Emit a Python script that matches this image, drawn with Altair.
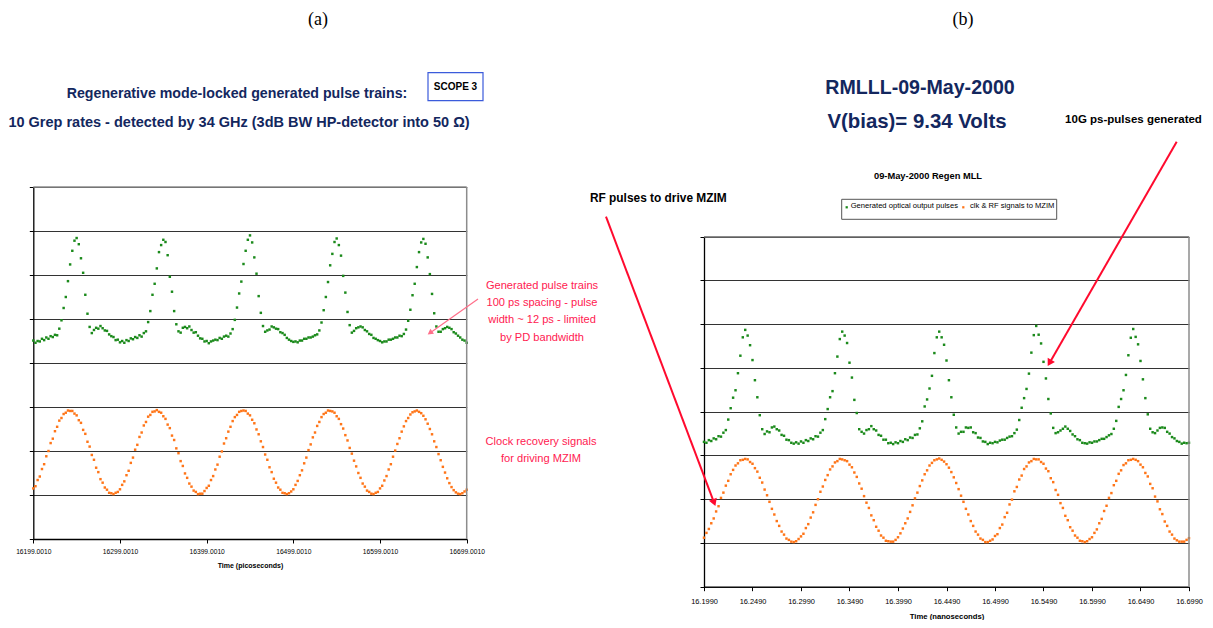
import altair as alt
import pandas as pd

# ---------------- data ----------------
T0_PS = 16199.001      # left panel time origin (picoseconds)
T0_NS = 16.199         # right panel time origin (nanoseconds)
STEP_PS = 2.5
STEP_NS = 0.0025

left_pulse = (
    [4.51, 4.46, 4.50, 4.49, 4.55, 4.52, 4.58, 4.55, 4.61, 4.59, 4.64, 4.63, 4.78, 4.97, 5.25, 5.50, 5.86, 6.24, 6.55, 6.78,
     6.84, 6.70, 6.38, 6.05, 5.55, 5.12, 4.82, 4.68, 4.75, 4.80, 4.78, 4.84, 4.79, 4.74, 4.73, 4.65, 4.61, 4.59, 4.52, 4.53]
    + [4.47, 4.50, 4.46, 4.52, 4.50, 4.56, 4.54, 4.59, 4.57, 4.63, 4.60, 4.68, 4.72, 4.93, 5.18, 5.55, 5.80, 6.15, 6.52, 6.68,
       6.80, 6.75, 6.45, 5.96, 5.62, 5.18, 4.88, 4.72, 4.69, 4.80, 4.82, 4.79, 4.83, 4.75, 4.69, 4.70, 4.62, 4.56, 4.55, 4.49]
    + [4.50, 4.45, 4.49, 4.51, 4.53, 4.52, 4.57, 4.55, 4.60, 4.62, 4.60, 4.67, 4.77, 4.98, 5.26, 5.58, 5.85, 6.25, 6.55, 6.80,
       6.90, 6.74, 6.40, 6.03, 5.52, 5.14, 4.84, 4.71, 4.74, 4.76, 4.83, 4.81, 4.78, 4.77, 4.70, 4.68, 4.64, 4.57, 4.53, 4.50]
    + [4.48, 4.49, 4.47, 4.51, 4.51, 4.55, 4.55, 4.58, 4.58, 4.60, 4.63, 4.65, 4.74, 4.92, 5.20, 5.50, 5.84, 6.22, 6.48, 6.75,
       6.83, 6.68, 6.44, 5.98, 5.60, 5.16, 4.86, 4.69, 4.73, 4.79, 4.81, 4.83, 4.81, 4.75, 4.72, 4.66, 4.64, 4.57, 4.55, 4.52]
    + [4.50, 4.47, 4.49, 4.49, 4.53, 4.53, 4.55, 4.58, 4.58, 4.62, 4.61, 4.66, 4.76, 4.96, 5.21, 5.54, 5.80, 6.18, 6.52, 6.74,
       6.82, 6.71, 6.40, 6.02, 5.57, 5.13, 4.83, 4.71, 4.71, 4.77, 4.79, 4.82, 4.80, 4.77, 4.70, 4.67, 4.62, 4.58, 4.53, 4.51]
    + [4.46]
)

left_clock = (
    [1.15, 1.20, 1.34, 1.42, 1.59, 1.70, 1.88, 2.00, 2.18, 2.28, 2.45, 2.55, 2.69, 2.75, 2.84, 2.87, 2.92, 2.91, 2.91, 2.85,
     2.81, 2.70, 2.64, 2.48, 2.39, 2.21, 2.10, 1.91, 1.80, 1.62, 1.52, 1.36, 1.28, 1.17, 1.12, 1.05, 1.04, 1.02, 1.05, 1.07]
    + [1.13, 1.23, 1.31, 1.45, 1.55, 1.73, 1.85, 2.03, 2.14, 2.32, 2.42, 2.58, 2.66, 2.78, 2.82, 2.89, 2.90, 2.93, 2.89, 2.87,
       2.79, 2.73, 2.60, 2.52, 2.35, 2.25, 2.06, 1.95, 1.77, 1.66, 1.49, 1.39, 1.26, 1.19, 1.10, 1.07, 1.02, 1.03, 1.03, 1.09]
    + [1.16, 1.21, 1.34, 1.43, 1.58, 1.69, 1.87, 1.99, 2.17, 2.29, 2.44, 2.55, 2.68, 2.77, 2.82, 2.89, 2.91, 2.92, 2.91, 2.85,
       2.81, 2.71, 2.63, 2.49, 2.38, 2.22, 2.09, 1.92, 1.80, 1.63, 1.52, 1.37, 1.28, 1.17, 1.12, 1.05, 1.04, 1.02, 1.04, 1.08]
    + [1.13, 1.23, 1.32, 1.45, 1.56, 1.72, 1.85, 2.02, 2.15, 2.31, 2.42, 2.57, 2.66, 2.77, 2.84, 2.87, 2.92, 2.91, 2.90, 2.87,
       2.79, 2.73, 2.61, 2.51, 2.36, 2.24, 2.07, 1.94, 1.78, 1.65, 1.50, 1.39, 1.26, 1.19, 1.10, 1.07, 1.03, 1.02, 1.05, 1.07]
    + [1.15, 1.21, 1.33, 1.43, 1.58, 1.70, 1.87, 2.01, 2.16, 2.29, 2.44, 2.56, 2.68, 2.75, 2.83, 2.88, 2.90, 2.92, 2.89, 2.86,
       2.80, 2.72, 2.62, 2.50, 2.38, 2.22, 2.09, 1.93, 1.79, 1.64, 1.51, 1.38, 1.27, 1.18, 1.11, 1.06, 1.03, 1.02, 1.04, 1.08]
    + [1.12]
)

right_pulse = (
    [3.31, 3.29, 3.35, 3.33, 3.39, 3.37, 3.44, 3.43, 3.52, 3.58, 3.82, 4.08, 4.32, 4.49, 4.88, 5.28, 5.70, 5.87, 5.74, 5.52,
     5.18, 4.72, 4.33, 3.92, 3.60, 3.49, 3.55, 3.53, 3.64, 3.66, 3.60, 3.57, 3.47, 3.45, 3.36, 3.35, 3.29]
    + [3.27, 3.30, 3.27, 3.32, 3.29, 3.35, 3.33, 3.39, 3.37, 3.44, 3.43, 3.52, 3.58, 3.83, 4.06, 4.33, 4.47, 4.88, 5.26, 5.66,
       5.83, 5.74, 5.57, 5.12, 4.78, 4.27, 3.97, 3.60, 3.54, 3.50, 3.58, 3.60, 3.67, 3.60, 3.57, 3.47, 3.45, 3.36, 3.36, 3.28]
    + [3.29, 3.26, 3.30, 3.28, 3.33, 3.31, 3.37, 3.35, 3.41, 3.40, 3.47, 3.48, 3.62, 3.78, 4.12, 4.28, 4.53, 4.82, 5.34, 5.70,
       5.83, 5.70, 5.53, 5.17, 4.72, 4.33, 3.93, 3.64, 3.50, 3.54, 3.54, 3.64, 3.63, 3.64, 3.53, 3.51, 3.41, 3.40, 3.32, 3.31]
    + [3.26, 3.29, 3.28, 3.31, 3.30, 3.34, 3.36, 3.36, 3.40, 3.43, 3.44, 3.51, 3.59, 3.81, 4.09, 4.31, 4.52, 4.87, 5.35, 5.75,
       5.96, 5.76, 5.56, 5.14, 4.76, 4.29, 3.96, 3.63, 3.51, 3.53, 3.57, 3.61, 3.66, 3.61, 3.56, 3.48, 3.44, 3.37, 3.35, 3.29]
    + [3.28, 3.27, 3.30, 3.29, 3.32, 3.32, 3.35, 3.38, 3.38, 3.42, 3.46, 3.49, 3.61, 3.79, 4.11, 4.29, 4.49, 4.84, 5.29, 5.69,
       5.89, 5.71, 5.54, 5.16, 4.74, 4.31, 3.94, 3.61, 3.53, 3.51, 3.57, 3.63, 3.64, 3.63, 3.54, 3.50, 3.42, 3.39, 3.33, 3.31]
    + [3.27, 3.29, 3.28, 3.29]
)

right_clock = (
    [1.12, 1.23, 1.32, 1.45, 1.56, 1.72, 1.84, 2.03, 2.15, 2.31, 2.42, 2.57, 2.67, 2.77, 2.82, 2.89, 2.90, 2.92, 2.91, 2.85,
     2.81, 2.71, 2.63, 2.49, 2.38, 2.22, 2.09, 1.94, 1.78, 1.65, 1.50, 1.39, 1.26, 1.19, 1.10, 1.07, 1.03, 1.02, 1.04, 1.09]
    + [1.15, 1.21, 1.34, 1.43, 1.58, 1.70, 1.87, 2.00, 2.17, 2.29, 2.44, 2.55, 2.68, 2.75, 2.84, 2.87, 2.92, 2.91, 2.89, 2.87,
       2.79, 2.73, 2.61, 2.51, 2.36, 2.24, 2.07, 1.92, 1.80, 1.63, 1.52, 1.37, 1.28, 1.17, 1.12, 1.05, 1.04, 1.03, 1.03, 1.07]
    + [1.13, 1.22, 1.33, 1.45, 1.56, 1.71, 1.86, 2.02, 2.15, 2.30, 2.43, 2.57, 2.66, 2.77, 2.83, 2.89, 2.91, 2.93, 2.90, 2.86,
       2.80, 2.72, 2.62, 2.50, 2.37, 2.23, 2.08, 1.94, 1.78, 1.65, 1.50, 1.39, 1.26, 1.19, 1.10, 1.07, 1.02, 1.02, 1.05, 1.08]
    + [1.16, 1.20, 1.34, 1.42, 1.59, 1.69, 1.88, 1.99, 2.18, 2.28, 2.45, 2.54, 2.69, 2.75, 2.84, 2.87, 2.92, 2.91, 2.91, 2.85,
       2.81, 2.70, 2.64, 2.48, 2.39, 2.21, 2.10, 1.91, 1.80, 1.62, 1.52, 1.36, 1.28, 1.17, 1.12, 1.05, 1.04, 1.02, 1.04, 1.09]
    + [1.13, 1.23, 1.31, 1.45, 1.55, 1.73, 1.85, 2.03, 2.14, 2.32, 2.42, 2.58, 2.66, 2.78, 2.82, 2.89, 2.90, 2.92, 2.90, 2.87,
       2.79, 2.73, 2.60, 2.52, 2.35, 2.25, 2.06, 1.95, 1.77, 1.66, 1.49, 1.39, 1.26, 1.19, 1.10, 1.06, 1.03, 1.03, 1.03, 1.07]
    + [1.11]
)

left_ticks = [16199.001, 16299.001, 16399.001, 16499.001, 16599.001, 16699.001]
right_ticks = [16.199, 16.249, 16.299, 16.349, 16.399, 16.449, 16.499, 16.549, 16.599, 16.649, 16.699]
grid_levels = [0, 1, 2, 3, 4, 5, 6, 7, 8]

left_df = pd.DataFrame({
    "t": [T0_PS + STEP_PS * i for i in range(len(left_pulse))],
    "pulse": left_pulse,
    "clock": left_clock,
})
right_df = pd.DataFrame({
    "t": [T0_NS + STEP_NS * i for i in range(len(right_pulse))],
    "pulse": right_pulse,
    "clock": right_clock,
})
one = pd.DataFrame({"k": [0]})

# ---------------- layout / style ----------------
W, H = 1197, 612
LX = [25.3, 458.7]
LY = [531.0, 179.0]
RX = [696.0, 1181.0]
RY = [578.7, 228.7]

SANS = "Liberation Sans, Arial, sans-serif"
SERIF = "Liberation Serif, Times New Roman, serif"
NAVY = "#13275e"
GREEN = "#1b8a1b"
ORANGE = "#ff7518"
RED_TXT = "#ff2050"
RED = "#ff0a2e"
PINK = "#ff6f8a"

lxs = alt.Scale(domain=[left_ticks[0], left_ticks[-1]], range=LX, nice=False, zero=False)
lys = alt.Scale(domain=[0, 8], range=LY, nice=False, zero=False)
rxs = alt.Scale(domain=[right_ticks[0], right_ticks[-1]], range=RX, nice=False, zero=False)
rys = alt.Scale(domain=[0, 8], range=RY, nice=False, zero=False)

ax_lx = alt.Axis(orient="bottom", offset=LY[0] - H, values=left_ticks, format=".4f",
                 title="Time (picoseconds)", labelFontSize=6.7, titleFontSize=7,
                 titleFontWeight="bold", tickSize=4, labelPadding=5, titlePadding=7,
                 grid=False, labelFlush=False, labelOverlap=False, labelBound=False)
ax_ly = alt.Axis(orient="left", offset=-LX[0], values=grid_levels, labels=False, title="",
                 grid=True, tickSize=4)
ax_rx = alt.Axis(orient="bottom", offset=RY[0] - H, values=right_ticks, format=".4f",
                 title="Time (nanoseconds)", labelFontSize=7.4, titleFontSize=7.7,
                 titleFontWeight="bold", tickSize=4, labelPadding=7, titlePadding=7,
                 grid=False, labelFlush=False, labelOverlap=False, labelBound=False)
ax_ry = alt.Axis(orient="left", offset=-RX[0], values=grid_levels, labels=False, title="",
                 grid=True, tickSize=4)

DOT = 6

left_pulse_layer = alt.Chart(left_df).mark_square(size=DOT, color=GREEN, opacity=1).encode(
    x=alt.X("t:Q", scale=lxs, axis=ax_lx),
    y=alt.Y("pulse:Q", scale=lys, axis=ax_ly),
)
left_clock_layer = alt.Chart(left_df).mark_square(size=DOT, color=ORANGE, opacity=1).encode(
    x=alt.X("t:Q", scale=lxs, axis=None),
    y=alt.Y("clock:Q", scale=lys, axis=None),
)
right_pulse_layer = alt.Chart(right_df).mark_square(size=DOT, color=GREEN, opacity=1).encode(
    x=alt.X("t:Q", scale=rxs, axis=ax_rx),
    y=alt.Y("pulse:Q", scale=rys, axis=ax_ry),
)
right_clock_layer = alt.Chart(right_df).mark_square(size=DOT, color=ORANGE, opacity=1).encode(
    x=alt.X("t:Q", scale=rxs, axis=None),
    y=alt.Y("clock:Q", scale=rys, axis=None),
)


def text(x, y, label, size, color="black", weight="normal", font=SANS, align="center",
         baseline="middle", line_height=None):
    kw = dict(text=label, fontSize=size, color=color, fontWeight=weight, font=font,
              align=align, baseline=baseline)
    if line_height is not None:
        kw["lineHeight"] = line_height
    return alt.Chart(one).mark_text(**kw).encode(x=alt.value(x), y=alt.value(y))


def seg(x1, y1, x2, y2, color, width):
    return alt.Chart(one).mark_rule(color=color, strokeWidth=width).encode(
        x=alt.value(x1), y=alt.value(y1), x2=alt.value(x2), y2=alt.value(y2))


def head(x, y, angle, size, color):
    return alt.Chart(one).mark_point(shape="triangle", filled=True, size=size, angle=angle,
                                     color=color, opacity=1).encode(x=alt.value(x), y=alt.value(y))


def box(x1, y1, x2, y2, stroke, width=1):
    return alt.Chart(one).mark_rect(fill="white", stroke=stroke, strokeWidth=width).encode(
        x=alt.value(x1), y=alt.value(y1), x2=alt.value(x2), y2=alt.value(y2))


BORDER = "#8c8c8c"
frames = [
    seg(LX[0], LY[1], LX[1], LY[1], BORDER, 1.5),
    seg(LX[1], LY[1], LX[1], LY[0], BORDER, 1.5),
    seg(RX[0], RY[1], RX[1], RY[1], BORDER, 1.5),
    seg(RX[1], RY[1], RX[1], RY[0], BORDER, 1.5),
]

annotations = [
    text(310, 12, "(a)", 18, font=SERIF),
    text(955, 12, "(b)", 18, font=SERIF),
    text(229, 86, "Regenerative mode-locked generated pulse trains:", 14.2, NAVY, "bold"),
    text(231, 115, "10 Grep rates - detected by 34 GHz (3dB BW HP-detector into 50 \u03a9)", 14.5, NAVY, "bold"),
    box(420, 64.7, 475, 92.7, "#3b5bdb", 1.2),
    text(447.5, 79, "SCOPE 3", 10, "black", "bold"),
    text(534, 278, ["Generated pulse trains", "100 ps spacing - pulse", "width ~ 12 ps - limited",
                    "by PD bandwidth"], 11.1, RED_TXT, line_height=17.2),
    text(533, 433.5, ["Clock recovery signals", "for driving MZIM"], 11.1, RED_TXT, line_height=17.2),
    seg(470, 291, 423, 324.3, PINK, 1.2),
    head(422.7, 324.3, 235, 40, PINK),
    text(912, 80, "RMLLL-09-May-2000", 19.6, NAVY, "bold"),
    text(909, 114, "V(bias)= 9.34 Volts", 20.4, NAVY, "bold"),
    text(1125.5, 112, "10G ps-pulses generated", 11.5, "black", "bold"),
    text(920, 167.7, "09-May-2000 Regen MLL", 9.3, "black", "bold"),
    box(833.7, 191.3, 1048.7, 211.3, "#555555", 1),
    alt.Chart(one).mark_square(size=5, color=GREEN, opacity=1).encode(x=alt.value(838.7), y=alt.value(199.3)),
    text(842.7, 197.7, "Generated optical output pulses", 7.6, "black", align="left"),
    alt.Chart(one).mark_square(size=5, color=ORANGE, opacity=1).encode(x=alt.value(955.3), y=alt.value(199.3)),
    text(962, 197.7, "clk & RF signals to MZIM", 7.6, "black", align="left"),
    text(650.3, 190.3, "RF pulses to drive MZIM", 11.9, "black", "bold"),
    seg(598, 208.7, 705.7, 493.6, RED, 2),
    head(705.7, 493.6, 159.3, 70, RED),
    seg(1168.7, 133.7, 1042.1, 353.9, RED, 2),
    head(1042.1, 353.9, 209.9, 70, RED),
]

chart = alt.layer(
    left_pulse_layer, left_clock_layer, right_pulse_layer, right_clock_layer,
    *frames, *annotations,
).resolve_scale(
    x="independent", y="independent"
).resolve_axis(
    x="independent", y="independent"
).properties(
    width=W, height=H,
    autosize=alt.AutoSizeParams(type="none"),
    padding=0,
).configure_view(
    strokeWidth=0
).configure_axis(
    domainColor="black", domainWidth=1.3, tickColor="black", tickWidth=1,
    labelColor="black", titleColor="black", labelFont=SANS, titleFont=SANS,
    gridColor="#333333", gridWidth=1.2, gridOpacity=1,
)

chart.save("out.html", embed_options={"renderer": "svg", "actions": False})
